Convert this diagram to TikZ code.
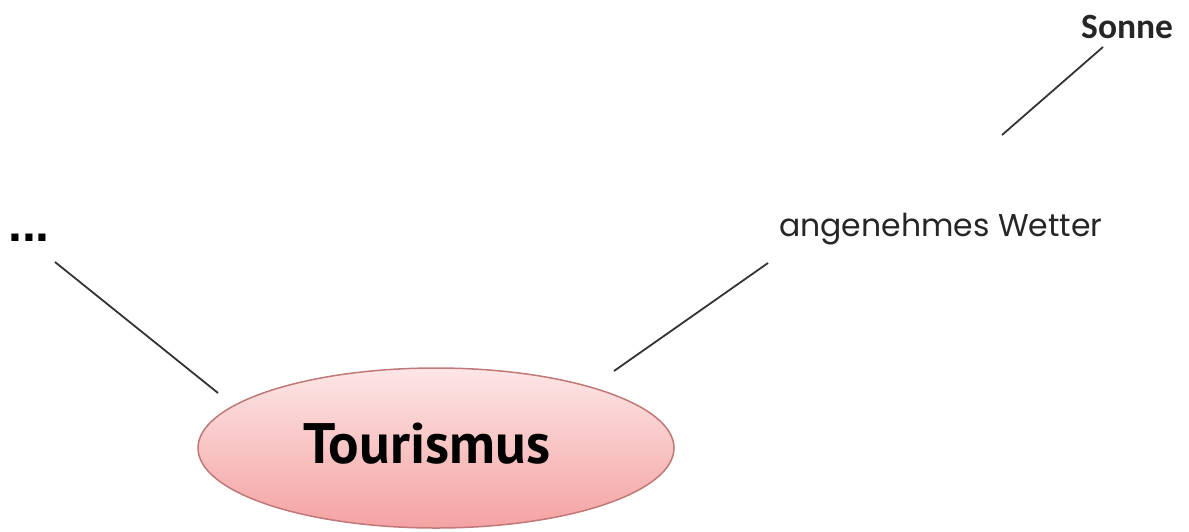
\documentclass[tikz,border=0pt]{standalone}
\usepackage{fontspec}
\setmainfont{Liberation Sans}
\newfontfamily\tourfont{PT Sans}
\newfontfamily\wetterfont{Poppins}
\newfontfamily\sonnefont{Carlito}
\usetikzlibrary{shapes.geometric}
\definecolor{lineg}{HTML}{333333}
\definecolor{ellborder}{HTML}{C07878}
\definecolor{elltop}{HTML}{FDE6E6}
\definecolor{ellbot}{HTML}{F4A2A2}
\tikzset{
  conn/.style={draw=lineg, line width=1.8pt},
  lbl/.style={inner sep=0pt, text=black},
}
\begin{document}
\begin{tikzpicture}[x=1pt,y=-1pt]
\useasboundingbox (0,0) rectangle (1189,531);
\node[ellipse, draw=ellborder, line width=1.5pt, top color=elltop, bottom color=ellbot,
      minimum width=476pt, minimum height=160pt, inner sep=0pt] (tour) at (436,448) {};
\node[lbl, font=\tourfont\bfseries\fontsize{57}{64}\selectfont] (tourtext) at (427,444) {Tourismus};
\node[lbl, font=\bfseries\fontsize{50}{54}\selectfont, anchor=west] (dots) at (8,238) {...};
\node[lbl, font=\wetterfont\fontsize{31.5}{36}\selectfont, text=black!85, anchor=west] (wetter) at (779,229) {angenehmes Wetter};
\node[lbl, font=\sonnefont\bfseries\fontsize{35.5}{40}\selectfont, text=black!85, anchor=west] (sonne) at (1081,27) {Sonne};
\coordinate (dotsA) at (55,262);
\coordinate (dotsB) at (218,393);
\coordinate (wetA) at (768,263);
\coordinate (wetB) at (614,371);
\coordinate (sonA) at (1103,47);
\coordinate (sonB) at (1002,135);
\draw[conn] (dotsA) -- (dotsB);
\draw[conn] (wetA) -- (wetB);
\draw[conn] (sonA) -- (sonB);
\end{tikzpicture}
\end{document}
